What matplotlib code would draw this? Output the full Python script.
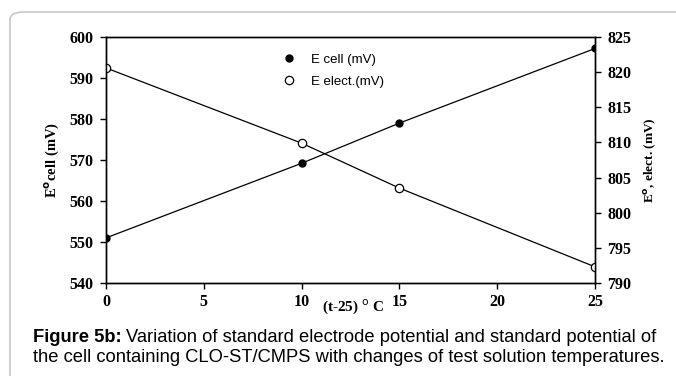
import numpy as np
import matplotlib.pyplot as plt
from matplotlib.patches import FancyBboxPatch

# data
temp = [0, 10, 15, 25]                    # (t-25) degC
e_cell = [551.0, 569.2, 579.0, 597.2]     # mV, left axis
e_elect = [820.6, 809.9, 803.5, 792.3]    # mV, right axis

serif = "Liberation Serif"
sans = "Liberation Sans"

fig = plt.figure(figsize=(6.76, 3.76), dpi=100)

# rounded frame around the figure panel (runs off the right and bottom edges)
frame = FancyBboxPatch((10 / 676, -0.1), 1.2, 1.1 - 12 / 376,
                       boxstyle="round,pad=0,rounding_size=0.02",
                       transform=fig.transFigure, fill=False,
                       edgecolor="#c8c8c8", linewidth=1.2, clip_on=False)
fig.patches.append(frame)

ax = fig.add_axes([106 / 676, 1 - 283 / 376, (595 - 106) / 676, (283 - 37) / 376])
ax2 = ax.twinx()

l1, = ax.plot(temp, e_cell, color="black", lw=0.9, marker="o", ms=5,
              mfc="black", mec="black", label="E cell (mV)")
l2, = ax2.plot(temp, e_elect, color="black", lw=0.9, marker="o", ms=6,
               mfc="white", mec="black", mew=0.9, label="E elect.(mV)")

ax.set_xlim(0, 25)
ax.set_ylim(540, 600)
ax2.set_ylim(790, 825)
ax.set_xticks([0, 5, 10, 15, 20, 25])
ax.set_yticks(np.arange(540, 601, 10))
ax2.set_yticks(np.arange(790, 826, 5))

for a in (ax, ax2):
    a.tick_params(direction="out", length=4, width=1, labelsize=11.5, pad=5)
    for lab in a.get_xticklabels() + a.get_yticklabels():
        lab.set_fontfamily(serif)
        lab.set_fontweight("bold")
    for s in a.spines.values():
        s.set_linewidth(1)
ax.tick_params(axis="x", pad=4)

ax.set_ylabel("E$^{\\mathbf{o}}$cell (mV)", fontfamily=serif, fontweight="bold",
              fontsize=10.5, labelpad=6)
ax2.set_ylabel("E$^{\\mathbf{o}}$, elect. (mV)", fontfamily=serif, fontweight="bold",
               fontsize=9.5, labelpad=8)
ax.text(0.505, -0.095, "(t-25) $^{\\mathrm{o}}$ C", transform=ax.transAxes,
        ha="center", va="center", fontfamily=serif, fontweight="bold", fontsize=11)

leg = ax.legend(handles=[l1, l2], loc="upper left", bbox_to_anchor=(0.35, 0.98),
                frameon=False, prop={"family": sans, "size": 9.5},
                handlelength=0, handletextpad=1.7, labelspacing=0.7, numpoints=1)

# caption: bold lead-in followed by regular text
cap_y1 = 1 - 338 / 376
cap_y2 = 1 - 358 / 376
lead = fig.text(33 / 676, cap_y1, "Figure 5b:", fontfamily=sans, fontweight="bold",
                fontsize=13.2, va="center")
fig.canvas.draw()
bb = lead.get_window_extent().transformed(fig.transFigure.inverted())
fig.text(bb.x1 + 4 / 676, cap_y1,
         "Variation of standard electrode potential and standard potential of",
         fontfamily=sans, fontsize=13.2, va="center")
fig.text(33 / 676, cap_y2,
         "the cell containing CLO-ST/CMPS with changes of test solution temperatures.",
         fontfamily=sans, fontsize=13.2, va="center")

fig.savefig("out.png", dpi=100)
